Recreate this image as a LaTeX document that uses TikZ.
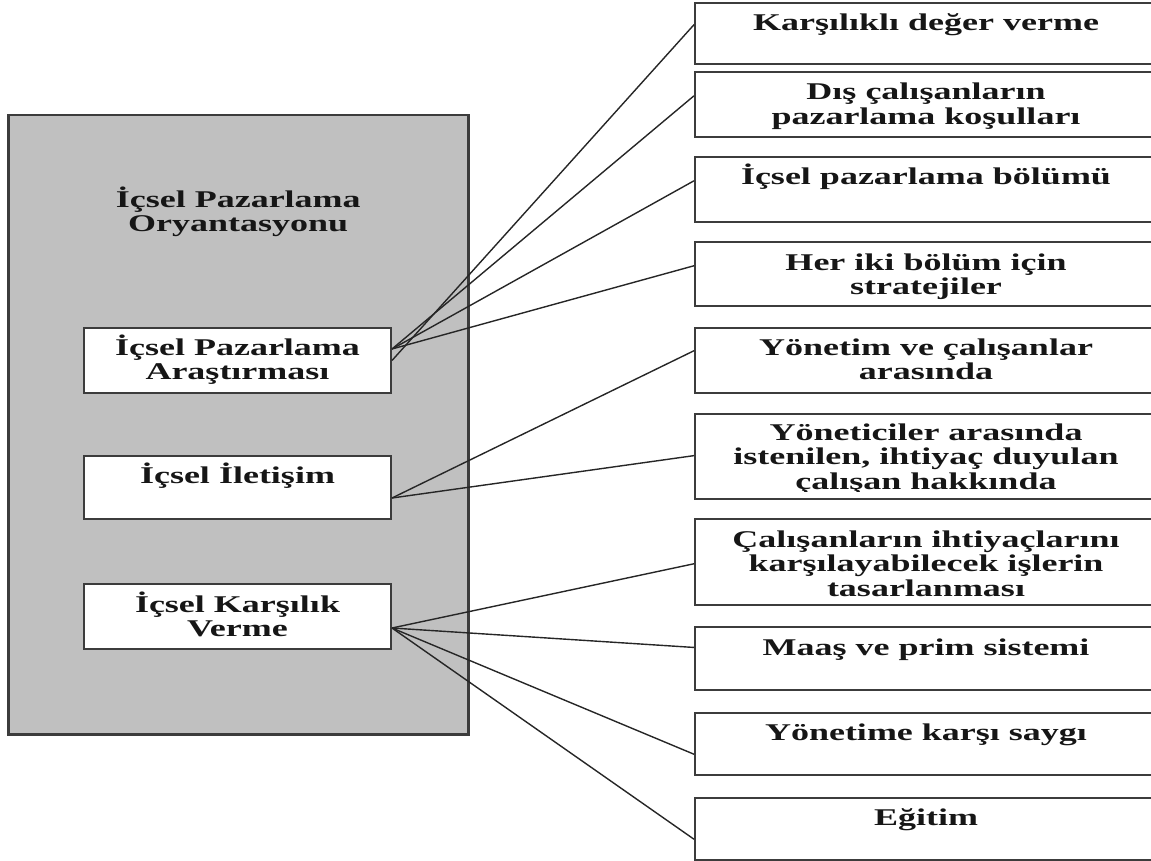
\documentclass[tikz,border=0pt]{standalone}
\usepackage{fontspec}
\newfontfamily\boxfont[FakeStretch=1.5]{Liberation Serif}
\usetikzlibrary{calc}
\definecolor{panelgray}{HTML}{C0C0C0}
\definecolor{edge}{HTML}{3C3C3C}
\definecolor{ink}{HTML}{161616}
\tikzset{
  panel/.style={draw=edge, line width=2.5pt, fill=panelgray, anchor=north west, inner sep=0pt},
  innerbox/.style={draw=edge, line width=2pt, fill=white, anchor=north west, minimum width=307pt, inner sep=0pt},
  itembox/.style={draw=edge, line width=2pt, fill=white, anchor=north west, minimum width=462pt, inner sep=0pt},
  % the base anchor of a multi-line node sits on its last line
  boxtext/.style={text=ink, font=\boxfont\bfseries\fontsize{24}{24.5}\selectfont, align=center, anchor=base, inner sep=0pt},
  link/.style={draw=black!85, line width=1.4pt},
}
\begin{document}
\begin{tikzpicture}[x=1pt, y=-1pt]
  \useasboundingbox (0,0) rectangle (1151,861);
  \clip (0,0) rectangle (1151,861);

  % left panel with its three sub-boxes
  \node[panel, minimum width=460pt, minimum height=619pt] (panel) at (7,114) {};
  \node[boxtext] (ptitle) at ($(panel.north)+(0,117.5)$) {İçsel Pazarlama\\Oryantasyonu};
  \node[innerbox, minimum height=65pt] (ipa) at (83,327) {};
  \node[innerbox, minimum height=63pt] (iil) at (83,455) {};
  \node[innerbox, minimum height=65pt] (ika) at (83,583) {};
  \node[boxtext] (ipat) at ($(ipa.north)+(0,52.5)$) {İçsel Pazarlama\\Araştırması};
  \node[boxtext] (iilt) at ($(iil.north)+(0,28)$) {İçsel İletişim};
  \node[boxtext] (ikat) at ($(ika.north)+(0,53.5)$) {İçsel Karşılık\\Verme};

  % right column of items (frames only, text follows)
  \node[itembox, minimum height=61pt] (r1) at (694,2) {};
  \node[itembox, minimum height=65pt] (r2) at (694,71) {};
  \node[itembox, minimum height=65pt] (r3) at (694,156) {};
  \node[itembox, minimum height=64pt] (r4) at (694,241) {};
  \node[itembox, minimum height=65pt] (r5) at (694,327) {};
  \node[itembox, minimum height=85pt] (r6) at (694,413) {};
  \node[itembox, minimum height=86pt] (r7) at (694,518) {};
  \node[itembox, minimum height=63pt] (r8) at (694,626) {};
  \node[itembox, minimum height=62pt] (r9) at (694,712) {};
  \node[itembox, minimum height=62pt] (r10) at (694,797) {};

  % connectors
  \draw[link] (ipa.east) -- ($(r1.north west)!0.36!(r1.south west)$);
  \draw[link] ([yshift=11.5pt]ipa.east) -- ($(r2.north west)!0.37!(r2.south west)$);
  \draw[link] ([yshift=11.5pt]ipa.east) -- ($(r3.north west)!0.37!(r3.south west)$);
  \draw[link] ([yshift=11.5pt]ipa.east) -- ($(r4.north west)!0.375!(r4.south west)$);
  \draw[link] ([yshift=-10.5pt]iil.east) -- ($(r5.north west)!0.354!(r5.south west)$);
  \draw[link] ([yshift=-10.5pt]iil.east) -- ($(r6.north west)!0.49!(r6.south west)$);
  \draw[link] ([yshift=-11.5pt]ika.east) -- ($(r7.north west)!0.52!(r7.south west)$);
  \draw[link] ([yshift=-11.5pt]ika.east) -- ($(r8.north west)!0.33!(r8.south west)$);
  \draw[link] ([yshift=-11.5pt]ika.east) -- ($(r9.north west)!0.66!(r9.south west)$);
  \draw[link] ([yshift=-11.5pt]ika.east) -- ($(r10.north west)!0.66!(r10.south west)$);

  % item texts
  \node[boxtext] (t1) at ($(r1.north)+(0,29)$) {Karşılıklı değer verme};
  \node[boxtext] (t2) at ($(r2.north)+(0,53.5)$) {Dış çalışanların\\pazarlama koşulları};
  \node[boxtext] (t3) at ($(r3.north)+(0,29)$) {İçsel pazarlama bölümü};
  \node[boxtext] (t4) at ($(r4.north)+(0,53.5)$) {Her iki bölüm için\\stratejiler};
  \node[boxtext] (t5) at ($(r5.north)+(0,52.5)$) {Yönetim ve çalışanlar\\arasında};
  % the last line of these two boxes is cut off by the box's text area
  \begin{scope}
    \clip (r6.north west) rectangle ([yshift=9pt]r6.south east);
    \node[boxtext] (t6) at ($(r6.north)+(0,76)$) {Yöneticiler arasında\\istenilen, ihtiyaç duyulan\\çalışan hakkında};
  \end{scope}
  \begin{scope}
    \clip (r7.north west) rectangle ([yshift=8pt]r7.south east);
    \node[boxtext] (t7) at ($(r7.north)+(0,78)$) {Çalışanların ihtiyaçlarını\\karşılayabilecek işlerin\\tasarlanması};
  \end{scope}
  \node[boxtext] (t8) at ($(r8.north)+(0,29)$) {Maaş ve prim sistemi};
  \node[boxtext] (t9) at ($(r9.north)+(0,28)$) {Yönetime karşı saygı};
  \node[boxtext] (t10) at ($(r10.north)+(0,28)$) {Eğitim};
\end{tikzpicture}
\end{document}
